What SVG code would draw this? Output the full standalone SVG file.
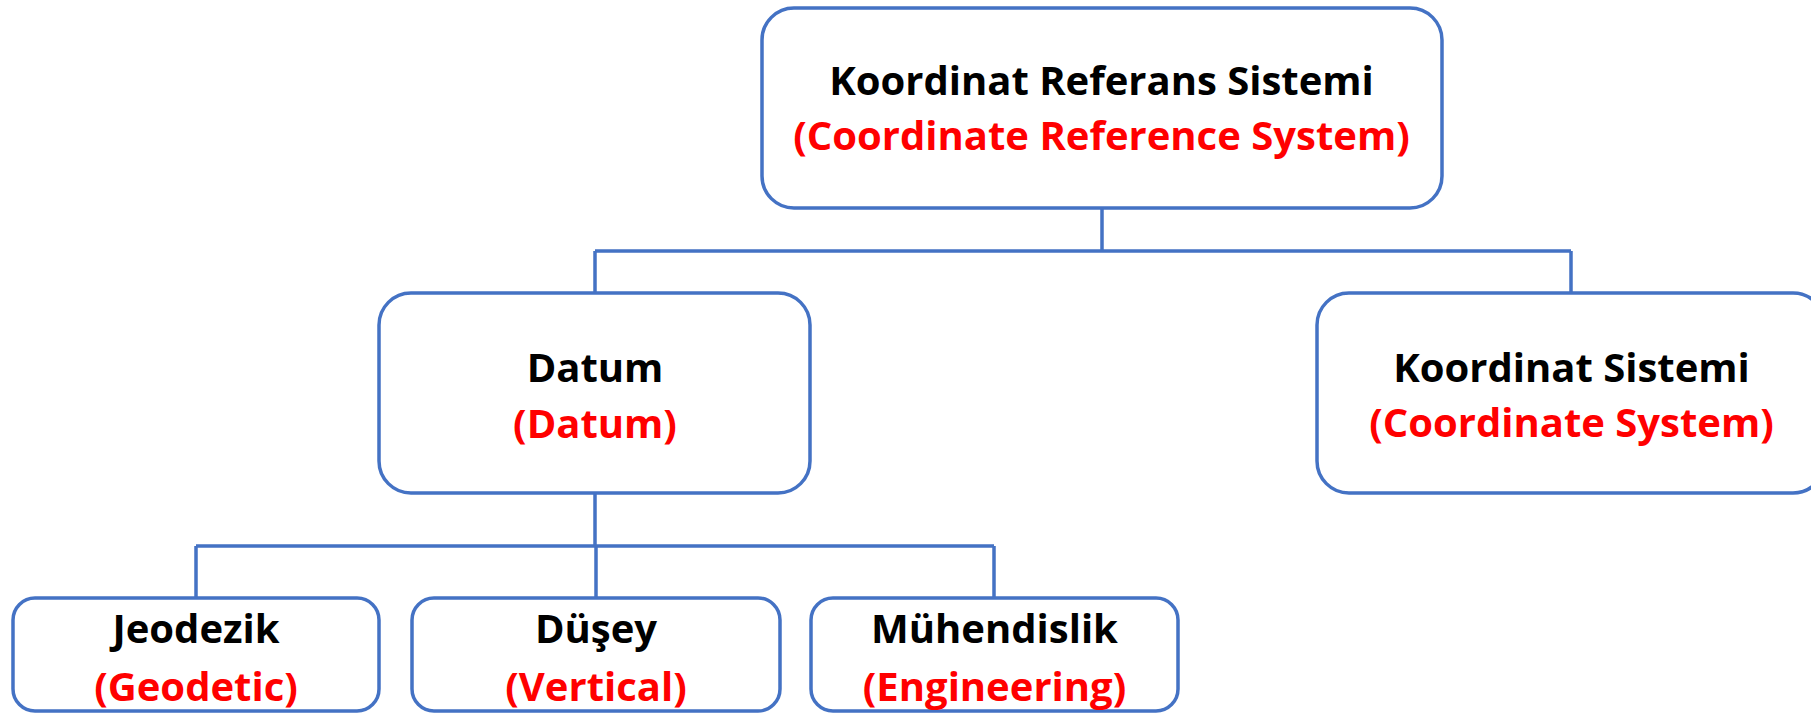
<svg xmlns="http://www.w3.org/2000/svg" width="1811" height="713" viewBox="0 0 1811 713">
<style>
  .box { fill: #FFFFFF; stroke: #4472C4; stroke-width: 3.5; }
  .conn { fill: none; stroke: #4472C4; stroke-width: 3.5; }
  .t { font-family: "Open Sans", "Liberation Sans", sans-serif; font-weight: bold; font-size: 40px; text-anchor: middle; }
  .en { fill: #FF0000; }
  .tr { fill: #000000; }
</style>
<rect width="1811" height="713" fill="#FFFFFF"/>
<g id="connectors">
  <path class="conn" d="M1102 208 V251 M595 251 H1571 M595 251 V293 M1571 251 V293"/>
  <path class="conn" d="M595 493 V546 M196 546 H994 M196 546 V598 M596 546 V598 M994 546 V598"/>
</g>
<g id="node-crs">
  <rect class="box" x="762" y="8" width="680" height="200" rx="32" ry="32"/>
  <text class="t tr" x="1101.5" y="95">Koordinat Referans Sistemi</text>
  <text class="t en" x="1101.5" y="150">(Coordinate Reference System)</text>
</g>
<g id="node-datum">
  <rect class="box" x="379" y="293" width="431" height="200" rx="32" ry="32"/>
  <text class="t tr" x="595" y="382">Datum</text>
  <text class="t en" x="595" y="438">(Datum)</text>
</g>
<g id="node-cs">
  <rect class="box" x="1317" y="293" width="508" height="200" rx="32" ry="32"/>
  <text class="t tr" x="1571.5" y="382">Koordinat Sistemi</text>
  <text class="t en" x="1571.5" y="437">(Coordinate System)</text>
</g>
<g id="node-geodetic">
  <rect class="box" x="13" y="598" width="366" height="113" rx="22" ry="22"/>
  <text class="t tr" x="196" y="643">Jeodezik</text>
  <text class="t en" x="196" y="701">(Geodetic)</text>
</g>
<g id="node-vertical">
  <rect class="box" x="412" y="598" width="368" height="113" rx="22" ry="22"/>
  <text class="t tr" x="596" y="643">Düşey</text>
  <text class="t en" x="596" y="701">(Vertical)</text>
</g>
<g id="node-engineering">
  <rect class="box" x="811" y="598" width="367" height="113" rx="22" ry="22"/>
  <text class="t tr" x="994.5" y="643">Mühendislik</text>
  <text class="t en" x="994.5" y="701">(Engineering)</text>
</g>
</svg>
